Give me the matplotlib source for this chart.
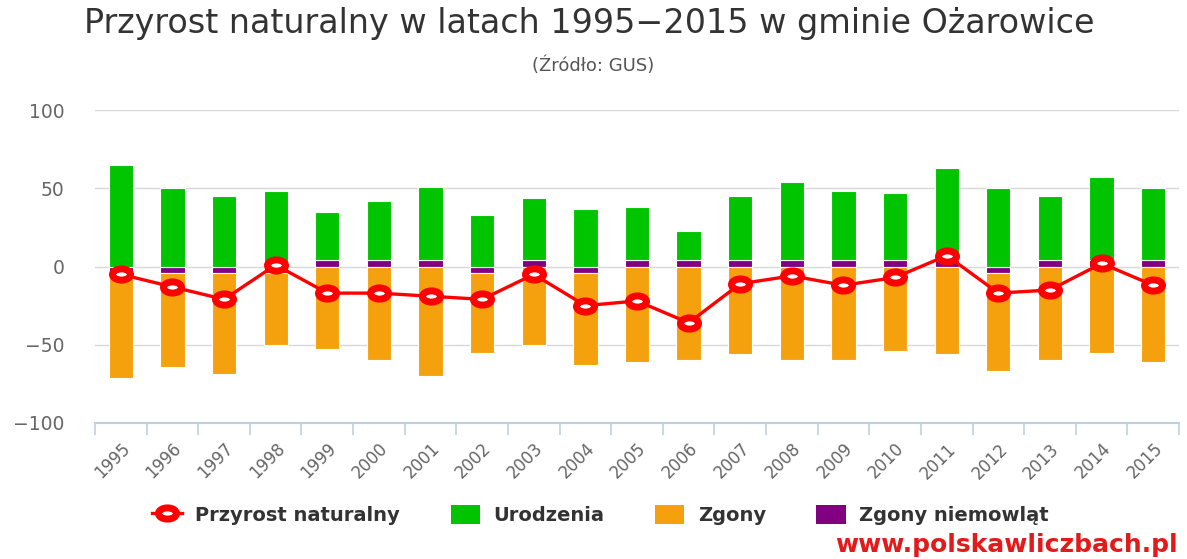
import numpy as np
import matplotlib
matplotlib.use("Agg")
import matplotlib.pyplot as plt
from matplotlib.path import Path
from matplotlib.transforms import Affine2D
from matplotlib.lines import Line2D
from matplotlib.patches import Patch

# dane
lata = ['1995', '1996', '1997', '1998', '1999', '2000', '2001', '2002', '2003',
        '2004', '2005', '2006', '2007', '2008', '2009', '2010', '2011', '2012',
        '2013', '2014', '2015']
urodzenia = [65, 50, 45, 48, 35, 42, 51, 33, 44, 37, 38, 23, 45, 54, 48, 47, 63, 50, 45, 57, 50]
zgony = [-71, -64, -69, -50, -53, -60, -70, -55, -50, -63, -61, -60, -56, -60, -60, -54, -56, -67, -60, -55, -61]
# zgony niemowlat - widoczne jako krotkie slupki nad/pod zerem
niemowleta = [-4, -4, -4, -4, 4, 4, 4, -4, 4, -4, 4, 4, 4, 4, 4, 4, 4, -4, 4, 4, 4]
przyrost = [-5, -13, -21, 1, -17, -17, -19, -21, -5, -25, -22, -36, -11, -6, -12, -7, 7, -17, -15, 2, -12]

ZIELONY = '#00c400'
POMARANCZ = '#f5a10e'
FIOLET = '#800080'
CZERWONY = '#ff0000'

x = np.arange(len(lata))
szer = 0.47

# baza slupkow zaleznie od strony, po ktorej jest slupek niemowlat
baza_gora = [max(n, 0) for n in niemowleta]
baza_dol = [min(n, 0) for n in niemowleta]
wys_ur = [u - b for u, b in zip(urodzenia, baza_gora)]
wys_zg = [z - b for z, b in zip(zgony, baza_dol)]

fig = plt.figure(figsize=(11.87, 5.59), dpi=100)
ax = fig.add_axes([0.080, 0.2433, 0.9133, 0.5599])

ax.bar(x, niemowleta, szer, color=FIOLET, edgecolor='white', linewidth=0.8, zorder=2)
ax.bar(x, wys_ur, szer, bottom=baza_gora, color=ZIELONY, edgecolor='white', linewidth=0.8, zorder=2)
ax.bar(x, wys_zg, szer, bottom=baza_dol, color=POMARANCZ, edgecolor='white', linewidth=0.8, zorder=2)

# eliptyczny znacznik jak w oryginale
elipsa = Path.unit_circle().transformed(Affine2D().scale(1, 0.62))
ax.plot(x, przyrost, color=CZERWONY, lw=2.4, marker=elipsa, ms=13,
        mfc='white', mec=CZERWONY, mew=5, zorder=4)

ax.set_xlim(-0.5, len(lata) - 0.5)
ax.set_ylim(-100, 100)

for s in ['top', 'right', 'left']:
    ax.spines[s].set_visible(False)
ax.spines['bottom'].set_color('#c0d0e0')
ax.spines['bottom'].set_linewidth(1.5)

ax.set_yticks([-100, -50, 0, 50, 100])
ax.tick_params(axis='y', length=0, pad=22, labelsize=13.5, labelcolor='#666666')
ax.yaxis.grid(True, color='#d8d8d8', lw=1)
ax.set_axisbelow(True)

ax.set_xticks(x)
ax.set_xticklabels(lata, rotation=45, ha='right', rotation_mode='anchor')
ax.set_xticks(np.arange(-0.5, len(lata), 1), minor=True)
ax.tick_params(axis='x', which='major', length=0, pad=12, labelsize=12, labelcolor='#666666')
ax.tick_params(axis='x', which='minor', length=8.5, width=1.2, color='#c0d0e0', direction='out')

fig.text(0.4966, 0.958, 'Przyrost naturalny w latach 1995\u22122015 w gminie Ożarowice',
         ha='center', va='center', fontsize=24, color='#333333')
fig.text(0.4996, 0.882, '(Źródło: GUS)', ha='center', va='center', fontsize=13, color='#555555')

uchwyty = [
    Line2D([], [], color=CZERWONY, lw=2.4, marker=elipsa, ms=13, mfc='white', mec=CZERWONY, mew=5),
    Patch(facecolor=ZIELONY),
    Patch(facecolor=POMARANCZ),
    Patch(facecolor=FIOLET),
]
opisy = ['Przyrost naturalny', 'Urodzenia', 'Zgony', 'Zgony niemowląt']
fig.legend(uchwyty, opisy, ncol=4, loc='center', bbox_to_anchor=(0.506, 0.079),
           frameon=False, prop={'weight': 'bold', 'size': 14}, labelcolor='#333333',
           handlelength=1.5, handleheight=1.1, columnspacing=2.6, handletextpad=0.7)

fig.text(0.992, 0.025, 'www.polskawliczbach.pl', ha='right', va='center',
         color='#e21a1a', fontsize=18, fontweight='bold')

fig.savefig('out.png', dpi=100)
